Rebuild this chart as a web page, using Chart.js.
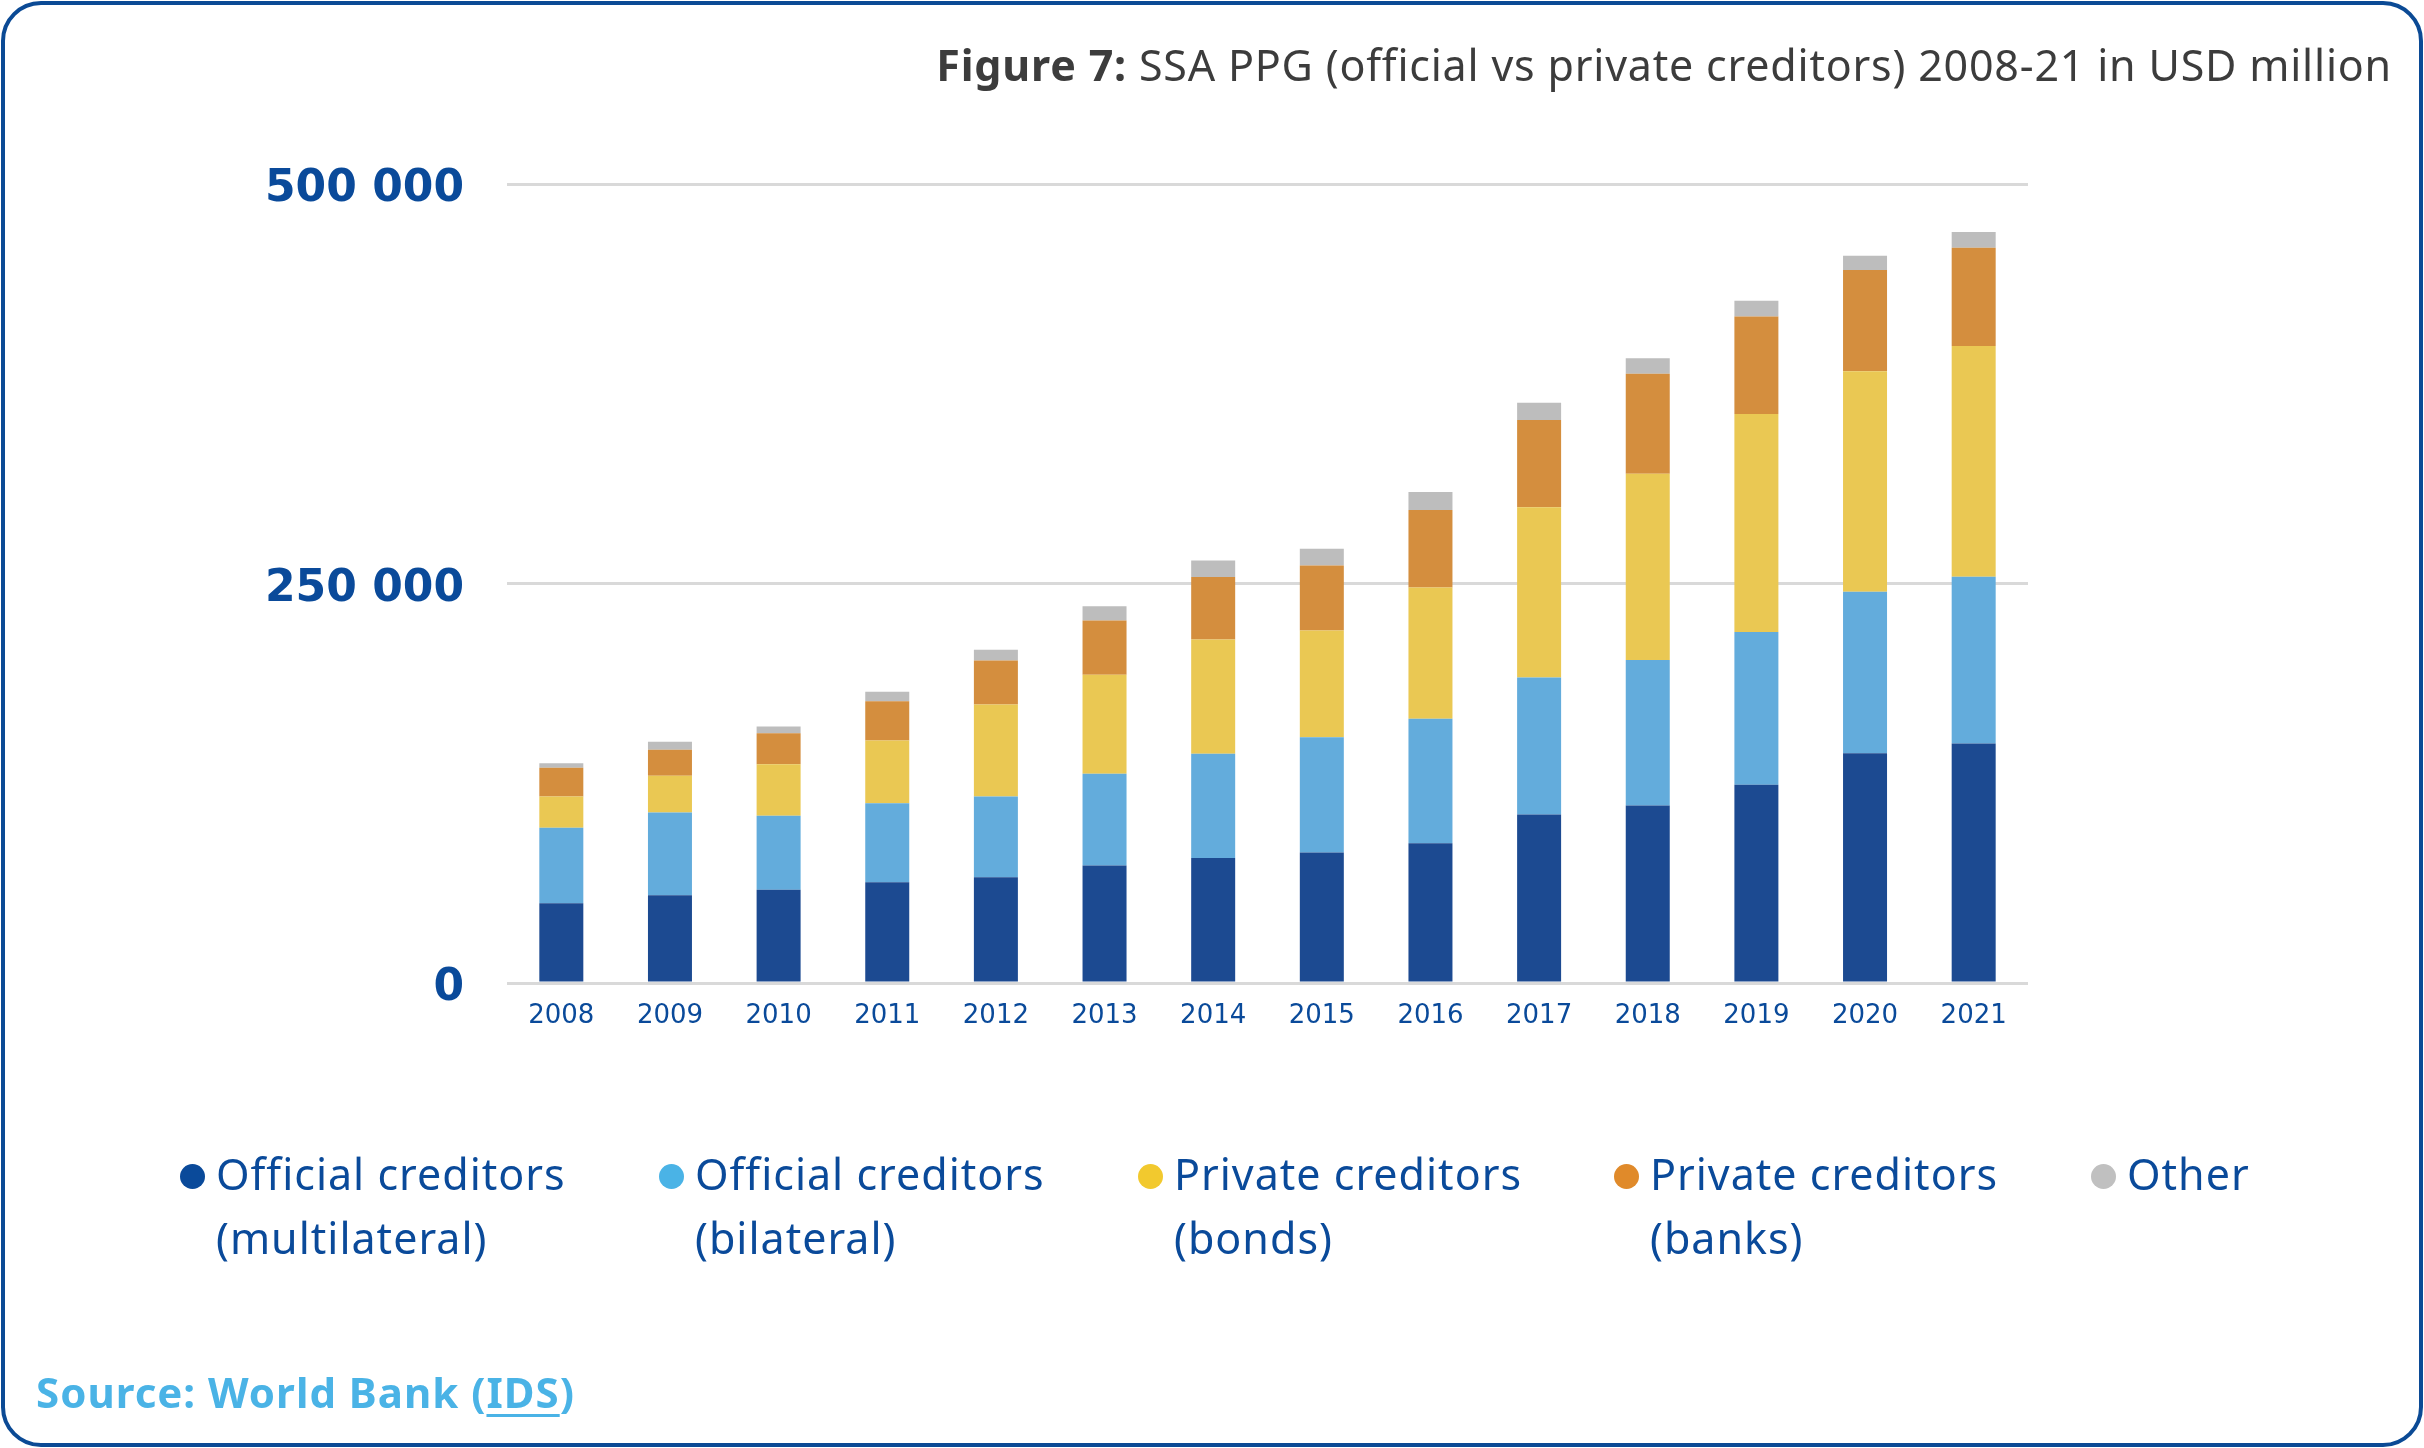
<!DOCTYPE html>
<html>
<head>
<meta charset="utf-8">
<script src="https://cdn.jsdelivr.net/npm/chart.js@4.4.0/dist/chart.umd.min.js"></script>
<style>
body { margin: 0; background: #fff; }
#frame {
    position: absolute; left: 1px; top: 1px; width: 2422px; height: 1446px;
    box-sizing: border-box; border: 4px solid #0b4a95; border-radius: 40px;
}
#myChart { position: absolute; left: 0; top: 0; }
.title {
    position: absolute; right: 32px; top: 37px;
    font-family: "Noto Sans", sans-serif; font-size: 43px; color: #3c3c3c;
    white-space: nowrap; line-height: 56px; letter-spacing: 0.8px;
}
.title b { font-weight: 700; }
.legend-item {
    position: absolute; top: 1142px;
    font-family: "Noto Sans", sans-serif; font-size: 43px; color: #0a4a9a;
    line-height: 64px; letter-spacing: 1px;
}
.legend-item .dot {
    position: absolute; left: -12px; top: 22px;
    width: 25px; height: 25px; border-radius: 50%;
}
.legend-item .txt { position: absolute; left: 24px; top: 0; white-space: nowrap; }
.source {
    position: absolute; left: 36px; top: 1363px;
    font-family: "Noto Sans", sans-serif; font-weight: 700; font-size: 42px; color: #4ab3e6;
    white-space: nowrap; letter-spacing: 1px;
}
.source u { text-decoration-thickness: 3px; text-underline-offset: 6px; }
</style>
</head>
<body>
<div id="frame"></div>
<canvas id="myChart" width="2424" height="1448"></canvas>
<div class="title"><b>Figure 7:</b> SSA PPG (official vs private creditors) 2008-21 in USD million</div>
<div id="legend"></div>
<div class="source">Source: World Bank (<u>IDS</u>)</div>

<script>
// values in USD million
const years = ["2008", "2009", "2010", "2011", "2012", "2013", "2014", "2015", "2016", "2017", "2018", "2019", "2020", "2021"]
const multilateral = [49900, 54900, 58300, 63100, 66200, 73500, 78300, 81700, 87400, 105400, 111100, 124000, 143700, 149800]
const bilateral = [47200, 51800, 46300, 49400, 50500, 57400, 65100, 72100, 78000, 85800, 91000, 95700, 101100, 104500]
const bonds = [19600, 23000, 32300, 39300, 57600, 62000, 71600, 66800, 82100, 106500, 116600, 136300, 138100, 144400]
const banks = [18000, 16200, 19400, 24500, 27500, 33900, 39000, 40700, 48500, 54600, 62500, 61100, 63300, 61400]
const other = [2800, 5000, 4200, 5900, 6700, 9000, 10400, 10400, 11200, 10800, 9800, 9800, 8900, 9900]
const yTicks = [0, 250000, 500000]

const legendNames = [
    ["Official creditors", "(multilateral)"],
    ["Official creditors", "(bilateral)"],
    ["Private creditors", "(bonds)"],
    ["Private creditors", "(banks)"],
    ["Other"]
]
const barColors = ["#1c4a91", "#63acdc", "#eac853", "#d48e3e", "#bdbdbd"]
const dotColors = ["#0a4a9a", "#4ab3e6", "#f2c92e", "#e08a2a", "#c0c0c0"]
const legendX = [192, 671, 1150, 1626, 2103]

const series = [multilateral, bilateral, bonds, banks, other]

const datos = {
    labels: years,
    datasets: series.map((s, i) => ({
        label: legendNames[i].join(" "),
        data: s,
        backgroundColor: barColors[i],
        borderWidth: 0,
        categoryPercentage: 1,
        barPercentage: 0.405
    }))
};

const options = {
    responsive: false,
    animation: false,
    layout: {
        padding: { top: 184, right: 396, bottom: 0, left: 0 }
    },
    scales: {
        x: {
            stacked: true,
            grid: { display: false },
            border: { display: false },
            ticks: {
                color: "#0a4a9a",
                font: { family: "DejaVu Sans", size: 26 },
                padding: 10,
                maxRotation: 0
            },
            afterFit: (scale) => { scale.height = 465 }
        },
        y: {
            stacked: true,
            min: 0,
            max: 500000,
            afterBuildTicks: (scale) => { scale.ticks = yTicks.map(v => ({ value: v })) },
            grid: { color: "#d9d9d9", lineWidth: 3, drawTicks: false },
            border: { display: false },
            ticks: {
                color: "#0a4a9a",
                font: { family: "DejaVu Sans", size: 44, weight: "bold" },
                padding: 43,
                labelOffset: 6,
                callback: (v) => v.toString().replace(/\B(?=(\d{3})+(?!\d))/g, " ")
            },
            afterFit: (scale) => { scale.width = 507 }
        }
    },
    plugins: {
        legend: { display: false },
        tooltip: { enabled: false }
    }
};

const ctx = document.getElementById("myChart").getContext("2d");
const myChart = new Chart(ctx, {
    type: "bar",
    data: datos,
    options: options
});

const legendDiv = document.getElementById("legend")
for (let i = 0; i < legendNames.length; i++) {
    const item = document.createElement("div")
    item.classList.add("legend-item")
    item.style.left = legendX[i] + "px"
    const dot = document.createElement("span")
    dot.classList.add("dot")
    dot.style.background = dotColors[i]
    item.appendChild(dot)
    const txt = document.createElement("span")
    txt.classList.add("txt")
    txt.innerHTML = legendNames[i].join("<br>")
    item.appendChild(txt)
    legendDiv.appendChild(item)
}
</script>
</body>
</html>
